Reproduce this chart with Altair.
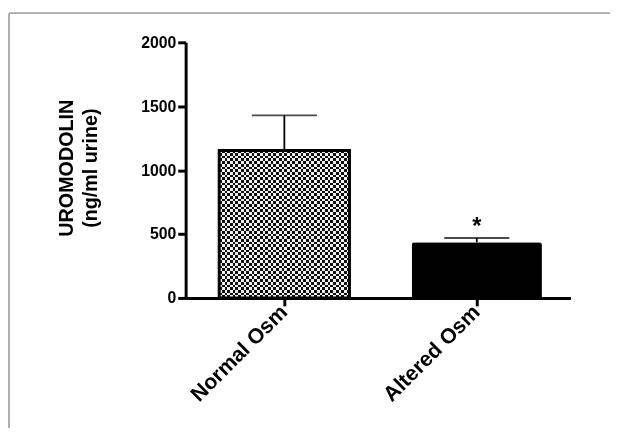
import altair as alt
import pandas as pd

# ---- data ----
categories = ["Normal Osm", "Altered Osm"]
means = [1154, 436]
errors = [274, 33]
marks = ["", "*"]

df = pd.DataFrame({
    "group": categories,
    "mean": means,
    "err": errors,
    "sig": marks,
})
df["upper"] = df["mean"] + df["err"]

FONT = "Liberation Sans"

# ---- style helpers: hard-edged stripe gradients for the checker texture ----
def stripes(n, c1, c2, horizontal=False):
    stops = []
    for i in range(n):
        c = c1 if i % 2 == 0 else c2
        stops.append({"offset": i / n, "color": c})
        stops.append({"offset": (i + 1) / n, "color": c})
    g = {"gradient": "linear", "stops": stops}
    if horizontal:
        g.update({"x1": 0, "x2": 0, "y1": 0, "y2": 1})
    else:
        g.update({"x1": 0, "x2": 1, "y1": 0, "y2": 0})
    return g

xscale = alt.Scale(domain=categories, paddingInner=0.323, paddingOuter=0.1615, align=0.54)
yscale = alt.Scale(domain=[0, 2000], nice=False)

xenc = alt.X("group:N", scale=xscale, sort=categories,
             axis=alt.Axis(title=None, labelAngle=-45, labelAlign="right",
                           labelBaseline="middle", labelFontSize=21.5,
                           labelPadding=3, labelFont=FONT, labelFontWeight="bold"))
yenc = alt.Y("mean:Q", scale=yscale,
             axis=alt.Axis(values=[0, 500, 1000, 1500, 2000], format="d",
                           title=["UROMODOLIN", "(ng/ml urine)"],
                           titleFontSize=20, titleFont=FONT, titleFontWeight="bold",
                           titleLineHeight=25, titleAngle=270,
                           titleX=-131, titleY=127, titleBaseline="top",
                           titleAlign="center",
                           labelFontSize=16, labelFont=FONT, labelFontWeight="bold",
                           labelPadding=2))

base = alt.Chart(df)

normal = base.transform_filter(alt.datum.group == categories[0])
altered = base.transform_filter(alt.datum.group == categories[1])

bar_v = normal.mark_bar(color=stripes(48, "#111111", "#f4f4f4")).encode(x=xenc, y=yenc)
bar_h = normal.mark_bar(color=stripes(55, "#ffffff", "rgba(255,255,255,0)", horizontal=True),
                        blend="difference").encode(x="group:N", y="mean:Q")
bar_outline = normal.mark_bar(fill="transparent", stroke="black", strokeWidth=3).encode(
    x="group:N", y="mean:Q")
bar_alt = altered.mark_bar(color="black", cornerRadiusTopLeft=3,
                           cornerRadiusTopRight=3).encode(x="group:N", y="mean:Q")

err_line = base.mark_rule(color="black", strokeWidth=1.8).encode(
    x="group:N", y="mean:Q", y2="upper:Q")
err_cap = base.mark_tick(color="black", thickness=1.8, size=66).encode(
    x="group:N", y="upper:Q")
star = base.mark_text(fontSize=24, fontWeight="bold", font=FONT, baseline="alphabetic",
                      dy=-4).encode(x="group:N", y="upper:Q", text="sig:N")

frame_left = base.mark_rule(color="#a9a9a9", strokeWidth=1.5).encode(
    x=alt.value(-179), y=alt.value(-29.5), y2=alt.value(400))
frame_top = base.mark_rule(color="#a9a9a9", strokeWidth=1.5).encode(
    y=alt.value(-29.5), x=alt.value(-179), x2=alt.value(440))

chart = alt.layer(
    frame_left, frame_top, bar_v, bar_h, bar_outline, bar_alt, err_line, err_cap, star
).properties(
    width=390, height=259,
    autosize=alt.AutoSizeParams(type="none"),
    padding={"left": 180, "top": 32, "right": 40, "bottom": 129},
    background="white",
).configure_view(stroke=None).configure_axis(
    grid=False, domainColor="black", domainWidth=3, tickColor="black",
    tickWidth=3, tickSize=8, labelColor="black", titleColor="black",
)

chart.save("out.html", embed_options={"renderer": "svg", "actions": False})
